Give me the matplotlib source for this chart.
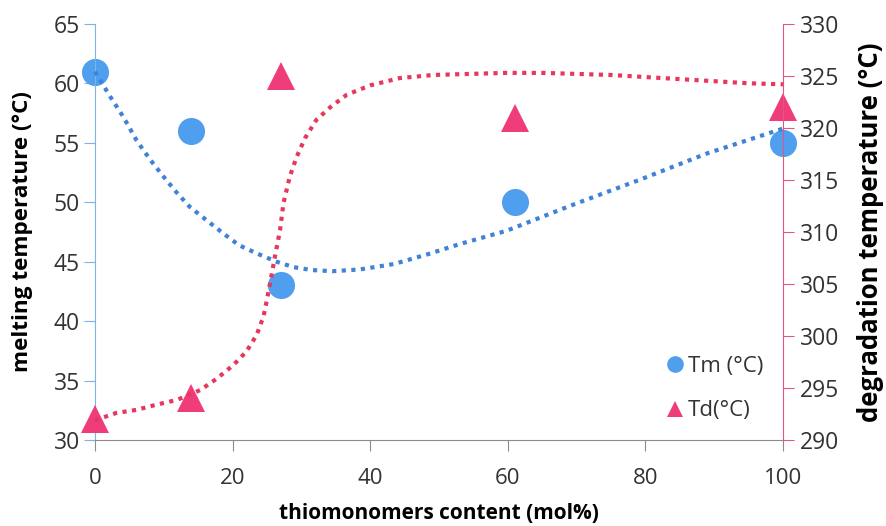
import matplotlib
matplotlib.use("Agg")
import matplotlib.pyplot as plt
from matplotlib.lines import Line2D

plt.rcParams['font.family'] = ['Open Sans', 'DejaVu Sans']

# measured points
content = [0, 14, 27, 61, 100]
tm = [61, 56, 43, 50, 55]
td = [292, 294, 325, 321, 322]

# dotted guide curves
tm_curve_x = [0, 2.2, 4.1, 6.05, 8.0, 9.9, 11.9, 13.8, 16.2, 18.6, 20.9, 23.5, 26.4,
              28.8, 31.5, 34.5, 38.5, 43.4, 48.2, 53.1, 59.8, 69.5, 79.2, 88.9, 100]
tm_curve_y = [61.0, 58.9, 57.2, 55.2, 53.6, 52.2, 50.8, 49.6, 48.5, 47.4, 46.4, 45.7,
              45.0, 44.55, 44.3, 44.2, 44.35, 44.8, 45.6, 46.5, 47.6, 49.8, 51.9, 54.1,
              56.2]
td_curve_x = [0, 3.1, 6.05, 8.95, 11.9, 15.3, 17.7, 20.1, 22.0, 23.5, 24.5, 25.0, 25.7,
              26.2, 26.9, 27.4, 28.3, 29.3, 30.5, 32.2, 34.2, 36.6, 40, 44.3, 49.2,
              59.8, 65, 75, 85, 95, 100]
td_curve_y = [291.9, 292.6, 292.9, 293.4, 293.85, 294.8, 295.9, 297.2, 298.5, 300.1,
              301.9, 303.5, 306.0, 307.8, 310.2, 312.8, 315.3, 317.2, 319.0, 320.8,
              322.0, 323.2, 324.1, 324.8, 325.1, 325.3, 325.3, 325.1, 324.7, 324.3,
              324.2]

blue = '#4f9fee'
blue_line = '#3f82d6'
pink = '#ee3d7a'
pink_line = '#e8365c'
grey = '#8c8c8c'

fig = plt.figure(figsize=(8.86, 5.26), dpi=100)
ax = fig.add_axes([95 / 886, 1 - 440 / 526, (783 - 95) / 886, 416 / 526])
ax2 = ax.twinx()

ax.plot(tm_curve_x, tm_curve_y, color=blue_line, lw=3, linestyle=(0, (1, 1.3)),
        dash_capstyle='butt', zorder=3, clip_on=False)
ax.plot(content, tm, 'o', color=blue, ms=19.5, mew=0, zorder=2, clip_on=False)

ax2.plot(td_curve_x, td_curve_y, color=pink_line, lw=3, linestyle=(0, (1, 1.3)),
         dash_capstyle='butt', zorder=3, clip_on=False)
ax2.plot(content, td, '^', color=pink, ms=20, mew=0, zorder=2, clip_on=False)

ax.set_xlim(0, 100)
ax.set_ylim(30, 65)
ax2.set_ylim(290, 330)
ax.set_xticks(range(0, 101, 20))
ax.set_yticks(range(30, 66, 5))
ax2.set_yticks(range(290, 331, 5))

for a in (ax, ax2):
    a.spines['top'].set_visible(False)
    a.patch.set_visible(False)
ax.spines['right'].set_visible(False)
ax.spines['left'].set_color('#7fb2e5')
ax.spines['bottom'].set_color(grey)
ax2.spines['left'].set_visible(False)
ax2.spines['bottom'].set_visible(False)
ax2.spines['right'].set_color('#e2577f')

ax.tick_params(axis='y', direction='out', length=8, color='#7fb2e5', labelsize=16.5,
               labelcolor='#333333', pad=3)
ax.tick_params(axis='x', direction='out', length=8, color=grey, labelsize=16,
               labelcolor='#333333', pad=12)
ax2.tick_params(axis='y', direction='out', length=8, color='#e2577f', labelsize=16.5,
                labelcolor='#333333', pad=4)

ax.set_xlabel('thiomonomers content (mol%)', fontsize=15, fontweight='bold')
ax.set_ylabel('melting temperature (°C)', fontsize=16.2, fontweight='bold')
ax2.set_ylabel('degradation temperature (°C)', fontsize=18.5, fontweight='bold')
ax.xaxis.set_label_coords(0.5, -0.152)
ax.yaxis.set_label_coords(-0.09, 0.5)
ax2.yaxis.set_label_coords(1.108, 0.5)

handles = [Line2D([], [], ls='none', marker='o', color=blue, ms=12, mew=0),
           Line2D([], [], ls='none', marker='^', color=pink, ms=12, mew=0)]
fig.legend(handles, ['Tm (°C)', 'Td(°C)'], loc='upper left',
           bbox_to_anchor=(646 / 886, 1 - 336 / 526), frameon=False, fontsize=16,
           handlelength=0.8, handletextpad=0.2, labelspacing=1.05,
           labelcolor='#333333')

fig.savefig('out.png', dpi=100)
